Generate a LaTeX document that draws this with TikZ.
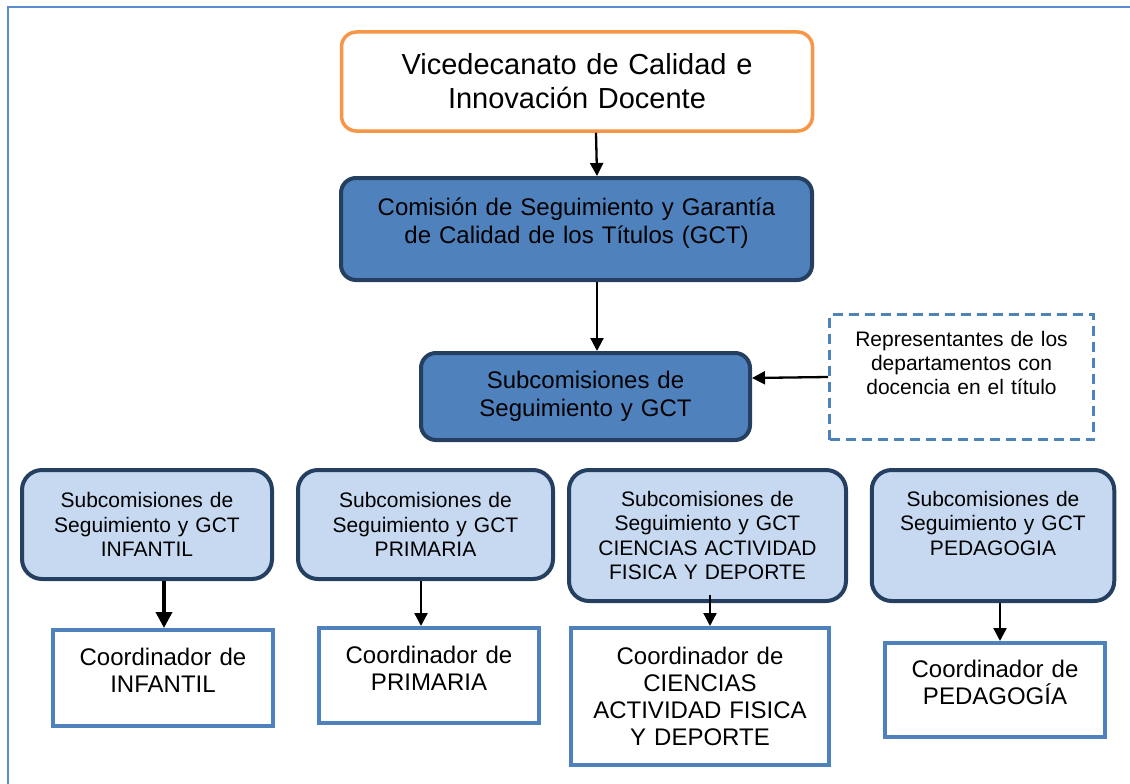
\documentclass[tikz,border=0pt]{standalone}
\usepackage{fontspec}
\setmainfont{Liberation Sans}
\usepackage{tikz}
\usetikzlibrary{arrows.meta}
\definecolor{vicorange}{HTML}{F79646}
\definecolor{gctblue}{HTML}{4F81BD}
\definecolor{gctnavy}{HTML}{243F60}
\definecolor{subpale}{HTML}{C6D9F1}
\definecolor{frameblue}{HTML}{5B8BD0}

\begin{document}
\begin{tikzpicture}[x=1pt,y=-1pt,>={Triangle[length=13pt,width=13pt]},
  box/.style={align=center,inner sep=4pt},
  vicebox/.style={box,draw=vicorange,line width=3.5pt,fill=white,rounded corners=15pt,
    text width=440pt,minimum width=471pt,minimum height=99pt,font=\fontsize{29}{34}\selectfont},
  navybox/.style={box,draw=gctnavy,line width=4pt,fill=gctblue,rounded corners=15pt,
    font=\fontsize{24}{28}\selectfont},
  repbox/.style={box,draw=gctblue,line width=3pt,dash pattern=on 10pt off 6pt,fill=white,
    text width=240pt,minimum width=264pt,minimum height=125pt,font=\fontsize{21}{24}\selectfont},
  palebox/.style={box,draw=gctnavy,line width=4pt,fill=subpale,rounded corners=20pt,
    text width=230pt,minimum height=109pt,font=\fontsize{21}{24.5}\selectfont},
  coordbox/.style={box,draw=gctblue,line width=4pt,fill=white,text width=200pt,
    minimum width=220pt,minimum height=96pt,font=\fontsize{24}{27}\selectfont},
  link/.style={->,line width=2.3pt}]
\useasboundingbox (0,0) rectangle (1130,784);
\draw[frameblue,line width=2pt] (8,784) -- (8,7) -- (1130,7);

% top of the chart
\node[vicebox] (vice) at (577,81.5) {Vicedecanato de Calidad e\\Innovación Docente};
\node[navybox,text width=440pt,minimum width=471pt,minimum height=102pt,text depth=45pt]
  (gct) at (576.5,229) {Comisión de Seguimiento y Garantía\\de Calidad de los Títulos (GCT)};
\node[navybox,text width=300pt,minimum width=329pt,minimum height=87pt]
  (sub) at (585.5,396.5) {Subcomisiones de\\Seguimiento y GCT};
\node[repbox,text depth=76pt] (rep) at (961.5,377)
  {Representantes de los\\departamentos con\\docencia en el título};

% one subcommission per degree
\node[palebox,minimum width=250pt] (subinf) at (147,524.5)
  {Subcomisiones de\\Seguimiento y GCT\\INFANTIL};
\node[palebox,minimum width=255pt] (subpri) at (425.5,524.5)
  {Subcomisiones de\\Seguimiento y GCT\\PRIMARIA};
\node[palebox,minimum width=277pt,minimum height=131pt] (subcaf) at (707.5,535.5)
  {Subcomisiones de\\Seguimiento y GCT\\CIENCIAS ACTIVIDAD\\FISICA Y DEPORTE};
\node[palebox,minimum width=242.5pt,minimum height=131pt,text depth=74pt] (subped) at (993,535.5)
  {Subcomisiones de\\Seguimiento y GCT\\PEDAGOGIA};

% coordinators
\node[coordbox,text depth=43pt] (coordinf) at (163,678) {Coordinador de\\INFANTIL};
\node[coordbox,minimum height=95pt,text depth=42pt] (coordpri) at (429,675.5)
  {Coordinador de\\PRIMARIA};
\node[coordbox,text width=240pt,minimum width=258pt,minimum height=137pt] (coordcaf) at (700,696.5)
  {Coordinador de\\CIENCIAS\\ACTIVIDAD FISICA\\Y DEPORTE};
\node[coordbox,minimum height=94pt,text depth=42pt] (coordped) at (995,690)
  {Coordinador de\\PEDAGOGÍA};

\draw[link] ([xshift=19pt]vice.south) -- ([xshift=20.5pt]gct.north);
\draw[link] ([xshift=20.5pt]gct.south) -- ([xshift=11.5pt]sub.north);
\draw[link] (rep.west) -- ([yshift=18.5pt]sub.east);
\draw[link,line width=3.5pt,>={Triangle[length=16pt,width=16pt]}]
  ([xshift=17pt]subinf.south) -- ([xshift=1pt]coordinf.north);
\draw[link] ([xshift=-4.5pt]subpri.south) -- ([xshift=-8pt]coordpri.north);
\draw[link] ([xshift=2.5pt,yshift=8pt]subcaf.south) -- ([xshift=10pt]coordcaf.north);
\draw[link] ([xshift=7pt]subped.south) -- ([xshift=5pt]coordped.north);
\end{tikzpicture}
\end{document}
